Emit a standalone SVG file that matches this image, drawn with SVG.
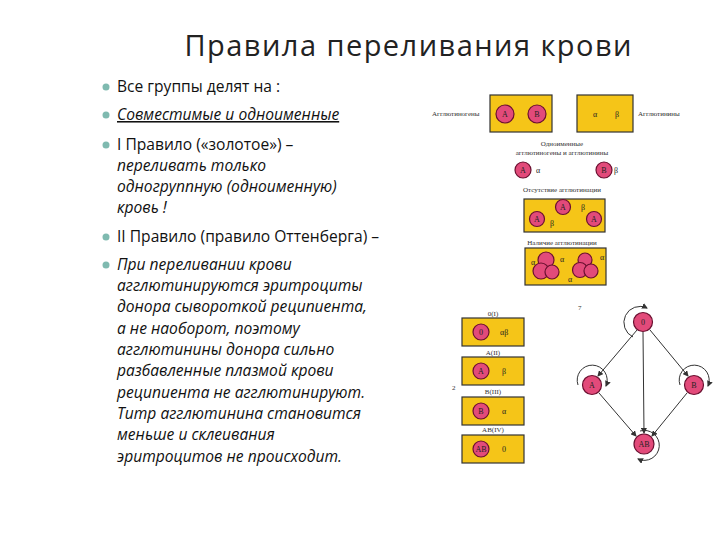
<svg xmlns="http://www.w3.org/2000/svg" width="720" height="540" viewBox="0 0 720 540">
<style>
.t{font-family:"Open Sans","Liberation Sans",sans-serif;font-size:15.6px;fill:#111}
.i{font-style:italic}
.s{font-family:"Liberation Serif",serif;font-size:7px;fill:#333}
.g{font-family:"Liberation Serif",serif;font-size:8px;fill:#222}
.bx{fill:#f5c518;stroke:#333;stroke-width:1.2}
.c{fill:#e24a7a;stroke:#6a1030;stroke-width:1.2}
.e{stroke:#333;stroke-width:1;fill:none}
.bul{fill:#7fbab0}
</style>
<defs><marker id="ar" markerWidth="6" markerHeight="6" refX="5" refY="3" orient="auto"><path d="M0,0L6,3L0,6z" fill="#333"/></marker></defs>
<rect width="720" height="540" fill="#fff"/>
<text x="408" y="56" text-anchor="middle" font-family="Open Sans,Liberation Sans,sans-serif" font-size="29" textLength="447" fill="#222">Правила переливания крови</text>
<g id="bullets" class="bul">
<circle cx="106" cy="87" r="3.5"/><circle cx="106" cy="115" r="3.5"/><circle cx="106" cy="145" r="3.5"/><circle cx="106" cy="237" r="3.5"/><circle cx="106" cy="265" r="3.5"/>
</g>
<g id="text">
<text class="t" x="117" y="92">Все группы делят на :</text>
<text class="t i" x="117" y="120" text-decoration="underline">Совместимые и одноименные</text>
<text class="t" x="117" y="150">I Правило («золотое») –</text>
<text class="t i" x="117" y="171">переливать только</text>
<text class="t i" x="117" y="192">одногруппную (одноименную)</text>
<text class="t i" x="117" y="213">кровь !</text>
<text class="t" x="117" y="242">II Правило (правило Оттенберга) –</text>
<text class="t i" x="117" y="270">При переливании крови</text>
<text class="t i" x="117" y="291">агглютинируются эритроциты</text>
<text class="t i" x="117" y="312">донора сывороткой реципиента,</text>
<text class="t i" x="117" y="334">а не наоборот, поэтому</text>
<text class="t i" x="117" y="355">агглютинины донора сильно</text>
<text class="t i" x="117" y="376">разбавленные плазмой крови</text>
<text class="t i" x="117" y="398">реципиента не агглютинируют.</text>
<text class="t i" x="117" y="419">Титр агглютинина становится</text>
<text class="t i" x="117" y="440">меньше и склеивания</text>
<text class="t i" x="117" y="462">эритроцитов не происходит.</text>
</g>
<g id="fig1">
<text class="s" x="432" y="116">Агглютиногены</text>
<rect class="bx" x="490" y="95" width="62" height="37"/>
<circle class="c" cx="505" cy="114" r="9"/><text class="g" x="505" y="117" text-anchor="middle">A</text>
<circle class="c" cx="537" cy="114" r="9"/><text class="g" x="537" y="117" text-anchor="middle">B</text>
<rect class="bx" x="577" y="95" width="56" height="37"/>
<text class="g" x="593" y="117">α</text><text class="g" x="615" y="117">β</text>
<text class="s" x="638" y="116">Агглютинины</text>
<text class="s" x="562" y="146" text-anchor="middle">Одноименные</text>
<text class="s" x="562" y="155" text-anchor="middle">агглютиногены  и агглютинины</text>
<circle class="c" cx="523" cy="170" r="8"/><text class="g" x="523" y="173" text-anchor="middle">A</text><text class="g" x="536" y="173">α</text>
<circle class="c" cx="604" cy="170" r="8"/><text class="g" x="604" y="173" text-anchor="middle">B</text><text class="g" x="614" y="173">β</text>
<text class="s" x="562" y="192" text-anchor="middle">Отсутствие агглютинации</text>
<rect class="bx" x="524" y="199" width="81" height="33"/>
<circle class="c" cx="537" cy="219" r="7.5"/><text class="g" x="537" y="222" text-anchor="middle">A</text>
<circle class="c" cx="563" cy="207" r="7.5"/><text class="g" x="563" y="210" text-anchor="middle">A</text>
<circle class="c" cx="594" cy="219" r="7.5"/><text class="g" x="594" y="222" text-anchor="middle">A</text>
<text class="g" x="550" y="226">β</text><text class="g" x="581" y="210">β</text>
<text class="s" x="562" y="245" text-anchor="middle">Наличие агглютинации</text>
<rect class="bx" x="525" y="248" width="81" height="37"/>
<circle class="c" cx="546" cy="260" r="8"/><circle class="c" cx="541" cy="271" r="8"/><circle class="c" cx="552" cy="272" r="7"/>
<circle class="c" cx="585" cy="260" r="7"/><circle class="c" cx="580" cy="270" r="7.5"/><circle class="c" cx="591" cy="271" r="7"/>
<text class="g" x="531" y="265">α</text><text class="g" x="560" y="262">α</text><text class="g" x="568" y="282">α</text><text class="g" x="600" y="260">α</text>
</g>
<g id="fig2">
<text class="s" x="493" y="316" text-anchor="middle">0(I)</text>
<rect class="bx" x="462" y="318" width="62" height="28"/>
<circle class="c" cx="481" cy="332" r="8"/><text class="g" x="481" y="335" text-anchor="middle">0</text><text class="g" x="500" y="335">αβ</text>
<text class="s" x="493" y="355" text-anchor="middle">A(II)</text>
<rect class="bx" x="462" y="357" width="62" height="28"/>
<circle class="c" cx="481" cy="371" r="8"/><text class="g" x="481" y="374" text-anchor="middle">A</text><text class="g" x="502" y="374">β</text>
<text class="s" x="452" y="390">2</text>
<text class="s" x="493" y="394" text-anchor="middle">B(III)</text>
<rect class="bx" x="462" y="397" width="62" height="28"/>
<circle class="c" cx="481" cy="411" r="8"/><text class="g" x="481" y="414" text-anchor="middle">B</text><text class="g" x="502" y="414">α</text>
<text class="s" x="493" y="432" text-anchor="middle">AB(IV)</text>
<rect class="bx" x="462" y="435" width="62" height="28"/>
<circle class="c" cx="481" cy="449" r="8"/><text class="g" x="481" y="452" text-anchor="middle" font-size="6">AB</text><text class="g" x="502" y="452">0</text>
</g>
<g id="connectors">
<line class="e" x1="637" y1="330" x2="598" y2="376" marker-end="url(#ar)"/>
<line class="e" x1="650" y1="330" x2="688" y2="376" marker-end="url(#ar)"/>
<line class="e" x1="643" y1="332" x2="644" y2="433" marker-end="url(#ar)"/>
<line class="e" x1="599" y1="393" x2="636" y2="436" marker-end="url(#ar)"/>
<line class="e" x1="687" y1="393" x2="652" y2="436" marker-end="url(#ar)"/>
<path class="e" d="M633,337 A14,14 0 1 1 647,308" marker-end="url(#ar)"/>
<path class="e" d="M578,385 A15,15 0 1 1 606,386" marker-end="url(#ar)"/>
<path class="e" d="M680,385 A15,15 0 1 1 708,386" marker-end="url(#ar)"/>
<path class="e" d="M640,431 A15,15 0 1 1 638,459" marker-end="url(#ar)"/>
</g>
<g id="n0"><circle class="c" cx="643" cy="322" r="9.5"/><text class="g" x="643" y="325" text-anchor="middle">0</text></g>
<g id="nA"><circle class="c" cx="592" cy="385" r="9.5"/><text class="g" x="592" y="388" text-anchor="middle">A</text></g>
<g id="nB"><circle class="c" cx="694" cy="385" r="9.5"/><text class="g" x="694" y="388" text-anchor="middle">B</text></g>
<g id="nAB"><circle class="c" cx="644" cy="444" r="10"/><text class="g" x="644" y="447" text-anchor="middle" font-size="7">AB</text></g>
<text class="s" x="578" y="310">7</text>
</svg>
